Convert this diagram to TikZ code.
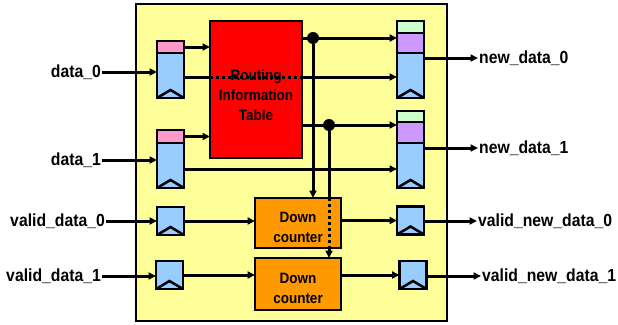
\documentclass[tikz,border=0pt]{standalone}
\usepackage{fontspec}
\setmainfont[FakeStretch=0.9]{Liberation Sans}
\usetikzlibrary{arrows.meta, positioning}
\definecolor{chipyellow}{HTML}{FFFF99}
\definecolor{ritred}{HTML}{FF0000}
\definecolor{dcorange}{HTML}{FF9900}
\definecolor{tagpink}{HTML}{FF99CC}
\definecolor{regblue}{HTML}{99CCFF}
\definecolor{midpurple}{HTML}{CC99FF}
\definecolor{topgreen}{HTML}{CCFFCC}

\begin{document}
\begin{tikzpicture}[x=1pt, y=-1pt,
    every node/.style={align=center},
    wire/.style={line width=3pt},
    arrow/.style={wire, -{Triangle[length=7.5pt,width=7pt]}},
    dots/.style={wire, dash pattern=on 3pt off 3pt},
    box/.style={draw, line width=2.5pt, inner sep=0pt, outer sep=0pt},
    regbody/.style={box, fill=regblue, minimum width=27pt, minimum height=45pt},
    regtag/.style={box, fill=tagpink, minimum width=27pt, minimum height=12pt},
    regmid/.style={box, fill=midpurple, minimum width=27pt, minimum height=20pt},
    regtop/.style={box, fill=topgreen, minimum width=27pt, minimum height=12pt},
    vreg/.style={box, fill=regblue, minimum width=27pt, minimum height=28pt},
    counter/.style={box, fill=dcorange, minimum width=86pt, minimum height=50pt},
    dot/.style={circle, fill, inner sep=0pt, minimum size=12pt},
    iolabel/.style={font=\fontsize{17.5}{20}\selectfont\bfseries, inner sep=1pt},
    boxtext/.style={font=\fontsize{15}{20}\selectfont\bfseries}
  ]
  \useasboundingbox (0,0) rectangle (618,324);

  % Chip outline
  \node[box, fill=chipyellow, minimum width=311pt, minimum height=317pt] (chip) at (291.5,162.5) {};

  % Input registers
  \node[regbody] (inreg0) at (170.5,75.5) {};
  \node[regtag, above=0pt of inreg0] (inreg0tag) {};
  \node[regbody] (inreg1) at (170.5,165.5) {};
  \node[regtag, minimum height=13pt, above=0pt of inreg1] (inreg1tag) {};

  % Output registers
  \node[regbody] (outreg0) at (410.5,75.5) {};
  \node[regmid, above=0pt of outreg0] (outreg0mid) {};
  \node[regtop, above=0pt of outreg0mid] (outreg0top) {};
  \node[regbody] (outreg1) at (410.5,165.5) {};
  \node[regmid, minimum height=21pt, above=0pt of outreg1] (outreg1mid) {};
  \node[regtop, minimum height=11pt, above=0pt of outreg1mid] (outreg1top) {};

  % Valid registers
  \node[vreg] (vin0) at (170.5,221) {};
  \node[vreg] (vin1) at (169.5,275) {};
  \node[vreg] (vout0) at (410.5,220.5) {};
  \node[vreg] (vout1) at (413,275) {};

  % Clock marks
  \foreach \r in {inreg0, inreg1, outreg0, outreg1, vin0, vin1, vout0, vout1}
    \draw[line width=2.5pt] (\r.south west) -- ([yshift=8pt]\r.south) -- (\r.south east);

  % Table and counters
  \node[box, fill=ritred, minimum width=92pt, minimum height=137pt] (rit) at (256,89.5) {};
  \node[boxtext] (rittxt) at ([yshift=-6pt]rit.center) {Routing\\Information\\Table};
  \node[counter] (dc0) at (298,223) {};
  \node[boxtext] (dc0txt) at ([yshift=-4pt]dc0.center) {Down\\counter};
  \node[counter, minimum height=52pt] (dc1) at (298,284) {};
  \node[boxtext] (dc1txt) at ([yshift=-4pt]dc1.center) {Down\\counter};

  % Port labels
  \node[iolabel, anchor=east] (data0lbl) at (102,72) {data\_0};
  \node[iolabel, anchor=east] (data1lbl) at (102,160) {data\_1};
  \node[iolabel, anchor=east] (vdata0lbl) at (106,221) {valid\_data\_0};
  \node[iolabel, anchor=east] (vdata1lbl) at (102,276) {valid\_data\_1};
  \node[iolabel, anchor=west] (newdata0lbl) at (478,58) {new\_data\_0};
  \node[iolabel, anchor=west] (newdata1lbl) at (478,148) {new\_data\_1};
  \node[iolabel, anchor=west] (vnew0lbl) at (477,221) {valid\_new\_data\_0};
  \node[iolabel, anchor=west] (vnew1lbl) at (481,276) {valid\_new\_data\_1};

  % Junctions
  \node[dot] (dot0) at (313,38) {};
  \node[dot] (dot1) at (329,125) {};
  \coordinate (thru0) at (256,77);
  \coordinate (thru1) at (256,169);

  % Inputs
  \draw[arrow] (data0lbl) -- (inreg0.west |- data0lbl);
  \draw[arrow] (data1lbl) -- (inreg1.west |- data1lbl);
  \draw[arrow] (vdata0lbl) -- (vin0.west |- vdata0lbl);
  \draw[arrow] (vdata1lbl) -- (vin1.west |- vdata1lbl);

  % Into the table
  \draw[arrow] (inreg0tag) -- (rit.west |- inreg0tag);
  \draw[arrow] (inreg1tag) -- (rit.west |- inreg1tag);

  % Data paths
  \draw[wire] (inreg0.east |- thru0) -- (rit.west |- thru0);
  \draw[dots] (rit.west |- thru0) -- (rit.east |- thru0);
  \draw[arrow] (rit.east |- thru0) -- (outreg0.west |- thru0);
  \draw[arrow] (inreg1.east |- thru1) -- (outreg1.west |- thru1);

  % Table outputs
  \draw[arrow] (rit.east |- dot0) -- (outreg0mid.west |- dot0);
  \draw[arrow] (rit.east |- dot1) -- (outreg1mid.west |- dot1);
  \draw[arrow] (dot0) -- (dot0 |- dc0.north);
  \draw[wire] (dot1) -- (dot1 |- dc0.north);
  \draw[dots] (dot1 |- dc0.north) -- (dot1 |- dc0.south);
  \draw[arrow] (dot1 |- dc0.south) -- (dot1 |- dc1.north);

  % Valid paths
  \draw[arrow] (vin0) -- (dc0.west |- vin0);
  \draw[arrow] (vin1) -- (dc1.west |- vin1);
  \draw[arrow] (dc0.east |- vout0) -- (vout0);
  \draw[arrow] (dc1.east |- vout1) -- (vout1);

  % Outputs
  \draw[arrow] (outreg0.east |- newdata0lbl) -- (newdata0lbl);
  \draw[arrow] (outreg1.east |- newdata1lbl) -- (newdata1lbl);
  \draw[arrow] (vout0.east |- vnew0lbl) -- (vnew0lbl);
  \draw[arrow] (vout1.east |- vnew1lbl) -- (vnew1lbl);
\end{tikzpicture}
\end{document}
